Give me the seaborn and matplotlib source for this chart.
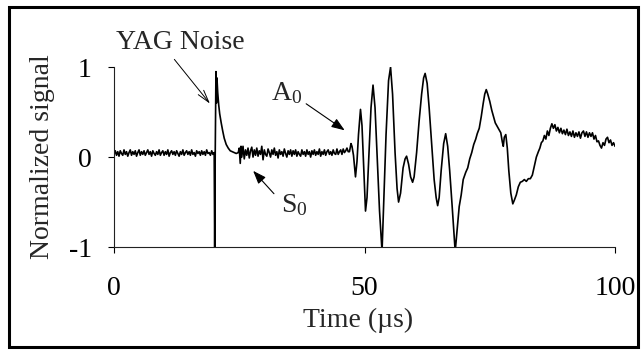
import numpy as np
import pandas as pd
import matplotlib
matplotlib.use("Agg")
import matplotlib.pyplot as plt
from matplotlib.patches import Rectangle
import seaborn as sns

# ---------------- data ----------------
# pre-trigger baseline, sampled every 0.25 us from 0 to 20 us
base1_start, base1_step = 0.0, 0.25
base1_v = [0.03, 0.07, 0.02, 0.06, 0.01, 0.07, 0.04, 0.02, 0.08, 0.03,
           0.06, 0.01, 0.05, 0.08, 0.02, 0.06, 0.03, 0.07, 0.01, 0.05,
           0.08, 0.02, 0.06, 0.03, 0.07, 0.02, 0.05, 0.08, 0.03, 0.06,
           0.01, 0.07, 0.04, 0.02, 0.06, 0.03, 0.08, 0.02, 0.05, 0.07,
           0.02, 0.06, 0.03, 0.08, 0.01, 0.05, 0.07, 0.03, 0.06, 0.02,
           0.07, 0.04, 0.01, 0.06, 0.03, 0.08, 0.02, 0.05, 0.07, 0.03,
           0.06, 0.02, 0.08, 0.03, 0.05, 0.01, 0.07, 0.04, 0.06, 0.02,
           0.07, 0.03, 0.06, 0.02, 0.08, 0.04, 0.05, 0.02, 0.07, 0.03, 0.05]

# YAG laser spike and decay
spike_t = [20.1, 20.2, 20.35, 20.45, 20.55, 20.7, 20.9, 21.1, 21.4, 21.7,
           22.0, 22.4, 22.8, 23.2, 23.6, 24.0, 24.4, 24.8, 25.0, 25.2, 25.35]
spike_v = [-1.05, 0.0, 0.95, 0.60, 0.88, 0.72, 0.58, 0.48, 0.38, 0.29,
           0.21, 0.14, 0.10, 0.07, 0.06, 0.05, 0.04, 0.05, 0.10, -0.07, 0.12]

# S0 region baseline, sampled every 0.25 us from 25.5 us
base2_start, base2_step = 25.5, 0.25
base2_v = [0.00, 0.12, -0.02, 0.08, 0.02, 0.10, -0.01, 0.07, 0.11, 0.00,
           0.08, 0.02, 0.10, 0.01, 0.07, 0.03, 0.12, -0.03, 0.08, 0.03,
           0.01, 0.09, 0.05, 0.00, 0.08, 0.03, 0.10, 0.02, 0.06, -0.01,
           0.08, 0.03, 0.06, 0.01, 0.09, 0.04, 0.00, 0.07, 0.03, 0.08,
           0.01, 0.07, 0.03, 0.08, 0.01, 0.06, 0.03, 0.01, 0.08, 0.03,
           0.06, 0.01, 0.08, 0.03, 0.06, 0.00, 0.07, 0.03, 0.08, 0.02,
           0.06, 0.03, 0.09, 0.01, 0.06, 0.03, 0.08, 0.02, 0.06, 0.08,
           0.03, 0.06, 0.02, 0.08, 0.04, 0.03, 0.09, 0.03, 0.06, 0.08,
           0.03, 0.09, 0.05, 0.07, 0.10, 0.06]

# A0 wave packet
wave_t = [47.0, 47.3, 47.5, 47.8, 48.2, 48.5, 48.8, 49.2, 49.5, 49.8,
          50.2, 50.5, 50.9, 51.3, 51.7, 52.1, 52.6, 53.0, 53.5, 53.9,
          54.3, 54.8, 55.2, 55.6, 56.1, 56.5, 56.8, 57.2, 57.7, 58.1,
          58.4, 58.8, 59.2, 59.6, 59.9, 60.4, 60.9, 61.4, 61.8, 62.1,
          62.5, 62.9, 63.4, 63.9, 64.3, 64.6, 64.9, 65.3, 65.8, 66.2,
          66.6, 67.0, 67.5, 68.1, 68.5, 68.9, 69.3, 69.7, 70.2, 70.6,
          71.0, 71.4, 71.8, 72.2, 72.5, 72.9, 73.3, 73.7, 74.0, 74.3,
          74.6, 75.0, 75.4, 75.8, 76.1, 76.5, 76.9, 77.2, 77.5, 77.7,
          77.9, 78.2, 78.5, 78.8, 79.2, 79.6, 79.9, 80.3, 80.7, 81.1,
          81.5, 81.9, 82.3, 82.7, 83.1, 83.5, 83.9, 84.3, 84.7]
wave_v = [0.06, 0.15, 0.12, 0.02, -0.22, -0.05, 0.25, 0.53, 0.35, -0.05,
          -0.60, -0.45, 0.05, 0.55, 0.80, 0.55, -0.10, -0.60, -1.05, -0.40,
          0.25, 0.85, 1.00, 0.70, 0.05, -0.35, -0.50, -0.40, -0.12, -0.02,
          0.01, -0.08, -0.22, -0.28, -0.22, 0.05, 0.40, 0.70, 0.88, 0.93,
          0.82, 0.55, 0.15, -0.25, -0.45, -0.54, -0.45, -0.15, 0.15, 0.26,
          0.12, -0.15, -0.55, -1.05, -0.80, -0.55, -0.42, -0.25, -0.17, -0.12,
          -0.02, 0.05, 0.14, 0.20, 0.26, 0.32, 0.45, 0.60, 0.70, 0.75,
          0.70, 0.62, 0.52, 0.44, 0.38, 0.34, 0.30, 0.27, 0.17, 0.12,
          0.22, 0.25, 0.10, -0.15, -0.40, -0.52, -0.48, -0.42, -0.33, -0.28,
          -0.27, -0.25, -0.27, -0.24, -0.24, -0.20, -0.10, 0.00, 0.06]

# late tail, sampled every 0.3 us from 85 us
tail_start, tail_step = 85.0, 0.3
tail_v = [0.10, 0.16, 0.18, 0.24, 0.20, 0.29, 0.24, 0.32, 0.37, 0.32,
          0.36, 0.29, 0.33, 0.27, 0.32, 0.26, 0.30, 0.25, 0.31, 0.24,
          0.28, 0.23, 0.29, 0.22, 0.27, 0.23, 0.28, 0.21, 0.27, 0.29,
          0.23, 0.28, 0.22, 0.27, 0.23, 0.27, 0.20, 0.24, 0.17, 0.18,
          0.13, 0.10, 0.16, 0.13, 0.20, 0.22, 0.16, 0.19, 0.13, 0.16, 0.12]

x_ticks = [0, 50, 100]
x_ticklabels = ["0", "50", "100"]
y_ticks = [-1, 0, 1]
y_ticklabels = ["-1", "0", "1"]

# ---------------- assemble ----------------
def grid(start, step, vals):
    return [start + step * i for i in range(len(vals))]

t_all = (grid(base1_start, base1_step, base1_v) + spike_t +
         grid(base2_start, base2_step, base2_v) + wave_t +
         grid(tail_start, tail_step, tail_v))
v_all = base1_v + spike_v + base2_v + wave_v + tail_v
df = pd.DataFrame({"t": t_all, "v": v_all})

# ---------------- plot ----------------
sns.set_style("ticks")
plt.rcParams["font.family"] = ["Liberation Serif", "DejaVu Serif"]
plt.rcParams["mathtext.default"] = "regular"
plt.rcParams["axes.unicode_minus"] = False

fig = plt.figure(figsize=(6.44, 3.57), dpi=100)
ax = fig.add_axes([0.177, 0.308, 0.778, 0.504])

sns.lineplot(data=df, x="t", y="v", ax=ax, estimator=None, sort=False,
             color="black", lw=1.2)

ax.set_xlim(0, 100)
ax.set_ylim(-1, 1)
ax.set_xticks(x_ticks)
ax.set_xticklabels(x_ticklabels)
ax.set_yticks(y_ticks)
ax.set_yticklabels(y_ticklabels)
for s in ["top", "right"]:
    ax.spines[s].set_visible(False)
for s in ["left", "bottom"]:
    ax.spines[s].set_linewidth(0.8)
    ax.spines[s].set_color("#222222")
ax.tick_params(axis="both", direction="out", length=4, width=0.8,
               labelsize=20, colors="black")
ax.tick_params(axis="x", pad=17)
ax.tick_params(axis="y", pad=12)

ax.set_xlabel("Time (\u00b5s)", fontsize=20)
ax.set_ylabel("Normalized signal", fontsize=20)
ax.xaxis.set_label_coords(0.487, -0.34)
ax.yaxis.set_label_coords(-0.118, 0.5)

# annotations
ax.text(13.2, 1.27, "YAG Noise", fontsize=20, ha="center", va="center",
        clip_on=False)
ax.annotate("", xy=(19.5, 0.57), xytext=(11.7, 1.11),
            arrowprops=dict(arrowstyle="->,head_length=0.9,head_width=0.25",
                            lw=0.7, color="black"),
            annotation_clip=False)

ax.text(31.3, 0.63, "A$_0$", fontsize=20, ha="left", va="baseline")
ax.annotate("", xy=(46.5, 0.28), xytext=(37.9, 0.61),
            arrowprops=dict(arrowstyle="-|>,head_length=0.8,head_width=0.3",
                            lw=0.8, color="black"))

ax.text(33.4, -0.61, "S$_0$", fontsize=20, ha="left", va="baseline")
ax.annotate("", xy=(27.4, -0.13), xytext=(32.3, -0.43),
            arrowprops=dict(arrowstyle="-|>,head_length=0.8,head_width=0.3",
                            lw=0.8, color="black"))

# outer frame around the whole figure
fig.patches.append(Rectangle((0.014, 0.028), 0.977, 0.953,
                             transform=fig.transFigure, fill=False,
                             lw=2.2, ec="black"))

fig.savefig("out.png", dpi=100)
